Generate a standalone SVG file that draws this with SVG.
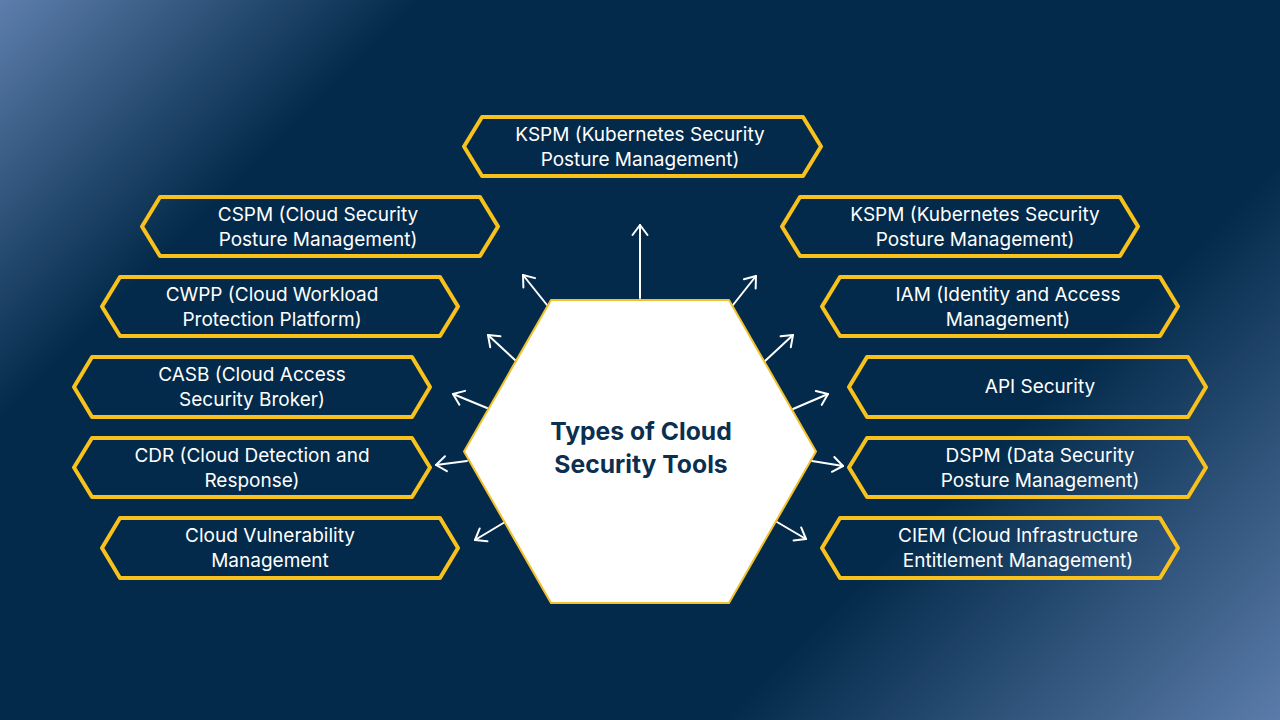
<svg xmlns="http://www.w3.org/2000/svg" width="1280" height="720" viewBox="0 0 1280 720">
<defs>
<linearGradient id="bg" gradientUnits="userSpaceOnUse" x1="0" y1="0" x2="1000" y2="1000">
<stop offset="0" stop-color="#5d7eac"/>
<stop offset="0.21" stop-color="#032a4a"/>
<stop offset="0.72" stop-color="#032a4a"/>
<stop offset="1" stop-color="#5b7caa"/>
</linearGradient>
<marker id="ah" markerUnits="userSpaceOnUse" viewBox="-12 -10 14 20" refX="0" refY="0" markerWidth="14" markerHeight="20" orient="auto" overflow="visible">
<path d="M-10,-7.5 L0,0 L-10,7.5" fill="none" stroke="#ffffff" stroke-width="2" stroke-linecap="round" stroke-linejoin="round"/>
</marker>
</defs>
<style>
.nd{fill:none;stroke:#f9c11c;stroke-width:4;stroke-linejoin:round}
.tx{font-family:Inter,"Open Sans","Liberation Sans",sans-serif;font-size:19px;fill:#ffffff;text-anchor:middle}
.cn{stroke:#ffffff;stroke-width:2;fill:none;stroke-linecap:round;marker-end:url(#ah)}
.ttl{font-family:Inter,"Open Sans","Liberation Sans",sans-serif;font-size:24.7px;font-weight:700;fill:#0b2f50;text-anchor:middle}
</style>
<rect x="0" y="0" width="1280" height="720" fill="url(#bg)"/>

<g id="connectors">
<line class="cn" x1="640" y1="298" x2="640" y2="225"/>
<line class="cn" x1="547" y1="305" x2="523" y2="275"/>
<line class="cn" x1="515" y1="360" x2="488" y2="335"/>
<line class="cn" x1="487" y1="408" x2="453" y2="394"/>
<line class="cn" x1="467" y1="461" x2="436" y2="465"/>
<line class="cn" x1="505" y1="522" x2="475" y2="540"/>
<line class="cn" x1="733" y1="305" x2="756" y2="276"/>
<line class="cn" x1="765" y1="361" x2="793" y2="335"/>
<line class="cn" x1="793" y1="409" x2="828" y2="394"/>
<line class="cn" x1="812" y1="461" x2="843" y2="466"/>
<line class="cn" x1="777" y1="522" x2="806" y2="539"/>
</g>

<g id="center">
<path d="M464,451.5 L551,300 L729,300 L816,451.5 L729,603 L551,603 Z" fill="#ffffff" stroke="#f2c12e" stroke-width="2" stroke-linejoin="round"/>
<text class="ttl" x="641" y="440">Types of Cloud</text>
<text class="ttl" x="641" y="473">Security Tools</text>
</g>

<g id="kspm-top">
<path class="nd" d="M464,146.5 L482,117 L803,117 L821,146.5 L803,176 L482,176 Z"/>
<text class="tx" x="640" y="140.5">KSPM (Kubernetes Security</text>
<text class="tx" x="640" y="165.5">Posture Management)</text>
</g>

<g id="cspm">
<path class="nd" d="M142,226.5 L160,197 L480,197 L498,226.5 L480,256 L160,256 Z"/>
<text class="tx" x="318" y="220.5">CSPM (Cloud Security</text>
<text class="tx" x="318" y="245.5">Posture Management)</text>
</g>

<g id="cwpp">
<path class="nd" d="M102,306.5 L120,277 L440,277 L458,306.5 L440,336 L120,336 Z"/>
<text class="tx" x="272" y="300.5">CWPP (Cloud Workload</text>
<text class="tx" x="272" y="325.5">Protection Platform)</text>
</g>

<g id="casb">
<path class="nd" d="M74,387 L92,357 L412,357 L430,387 L412,417 L92,417 Z"/>
<text class="tx" x="252" y="381">CASB (Cloud Access</text>
<text class="tx" x="252" y="406">Security Broker)</text>
</g>

<g id="cdr">
<path class="nd" d="M74,467.5 L92,438 L412,438 L430,467.5 L412,497 L92,497 Z"/>
<text class="tx" x="252" y="461.5">CDR (Cloud Detection and</text>
<text class="tx" x="252" y="486.5">Response)</text>
</g>

<g id="cvm">
<path class="nd" d="M102,548 L120,518 L440,518 L458,548 L440,578 L120,578 Z"/>
<text class="tx" x="270" y="542">Cloud Vulnerability</text>
<text class="tx" x="270" y="567">Management</text>
</g>

<g id="kspm-right">
<path class="nd" d="M782,226.5 L800,197 L1120,197 L1138,226.5 L1120,256 L800,256 Z"/>
<text class="tx" x="975" y="220.5">KSPM (Kubernetes Security</text>
<text class="tx" x="975" y="245.5">Posture Management)</text>
</g>

<g id="iam">
<path class="nd" d="M822,306.5 L840,277 L1160,277 L1178,306.5 L1160,336 L840,336 Z"/>
<text class="tx" x="1008" y="300.5">IAM (Identity and Access</text>
<text class="tx" x="1008" y="325.5">Management)</text>
</g>

<g id="api">
<path class="nd" d="M849,387 L867,357 L1188,357 L1206,387 L1188,417 L867,417 Z"/>
<text class="tx" x="1040" y="393">API Security</text>
</g>

<g id="dspm">
<path class="nd" d="M849,467.5 L867,438 L1188,438 L1206,467.5 L1188,497 L867,497 Z"/>
<text class="tx" x="1040" y="461.5">DSPM (Data Security</text>
<text class="tx" x="1040" y="486.5">Posture Management)</text>
</g>

<g id="ciem">
<path class="nd" d="M822,548 L840,518 L1160,518 L1178,548 L1160,578 L840,578 Z"/>
<text class="tx" x="1018" y="542">CIEM (Cloud Infrastructure</text>
<text class="tx" x="1018" y="567">Entitlement Management)</text>
</g>
</svg>
